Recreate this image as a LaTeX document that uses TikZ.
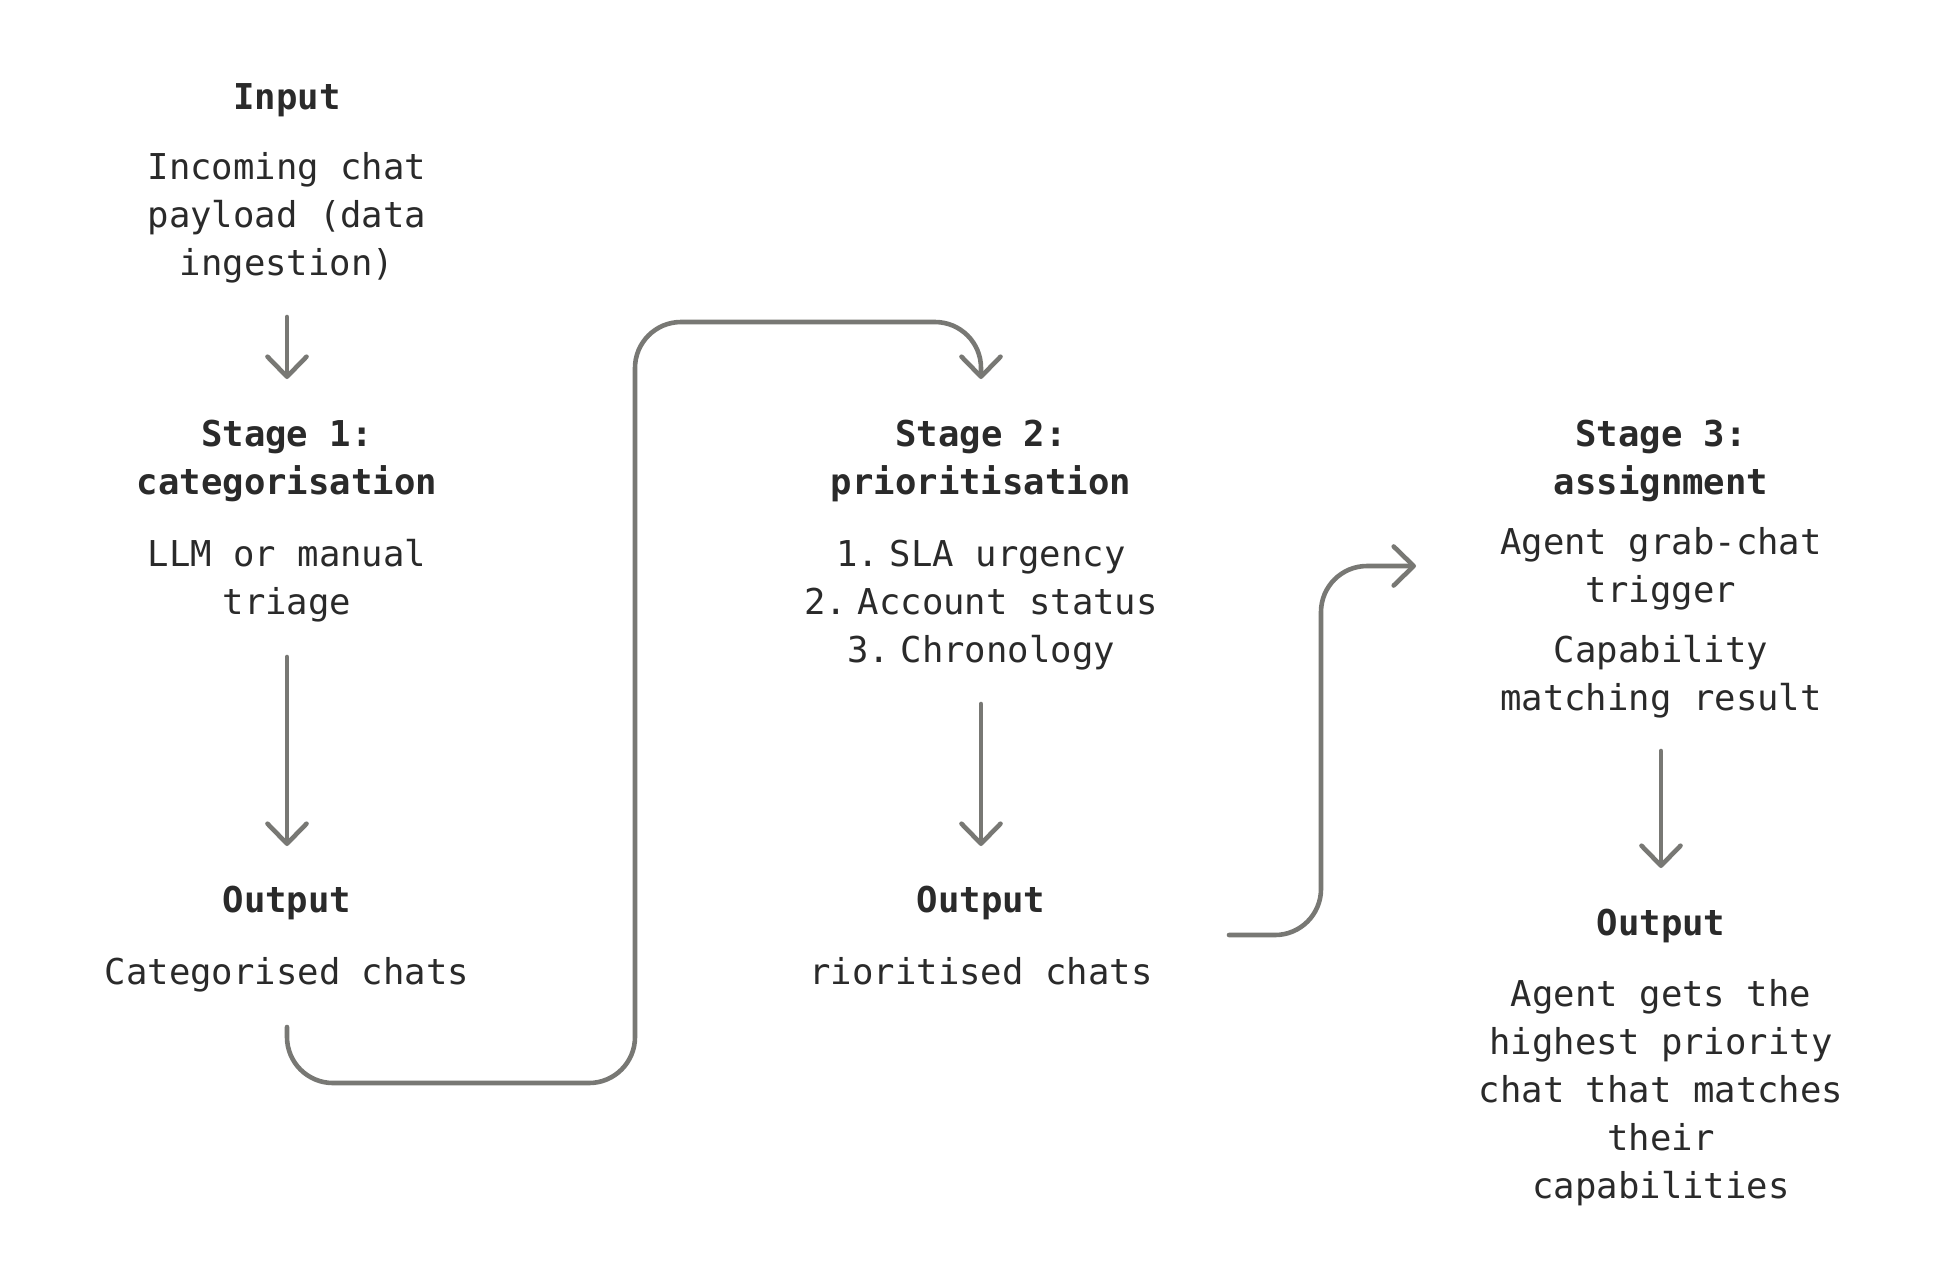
\documentclass[tikz,border=0pt]{standalone}
\usepackage{fontspec}
\setmainfont{DejaVu Sans Mono}
\usetikzlibrary{arrows.meta,calc}
\definecolor{txt}{RGB}{42,42,42}
\definecolor{ln}{RGB}{120,120,116}
\newcommand{\lsp}{\hspace{0.3em}}
\tikzset{
  lbl/.style={inner sep=0pt, align=center, text=txt, font=\fontsize{17.8pt}{24pt}\selectfont},
  ttl/.style={lbl, font=\fontsize{17.8pt}{24pt}\selectfont\bfseries},
  arr/.style={draw=ln, line width=2.3pt, line cap=round, line join=round,
    -{Straight Barb[length=10pt,width=19.5pt,round]}},
  conn/.style={arr, rounded corners=23pt}
}
\begin{document}
\begin{tikzpicture}[x=0.5pt,y=-0.5pt]
\fill[white] (0,0) rectangle (1950,1282);
\useasboundingbox (0,0) rectangle (1950,1282);
% column 1
\node[ttl] (inp) at (287,100) {Input};
\node[lbl] (inbody) at (287,218) {Incoming chat\\payload (data\\ingestion)};
\node[ttl] (s1title) at (287,461) {Stage 1:\\categorisation};
\node[lbl] (s1body) at (287,581) {LLM or manual\\triage};
\node[ttl] (o1title) at (287,902.5) {Output};
\node[lbl] (o1body) at (287,974.5) {Categorised chats};
% column 2
\node[ttl] (s2title) at (981,461) {Stage 2:\\prioritisation};
\node[lbl] (s2body) at (981,605.5) {1.\lsp SLA urgency\\2.\lsp Account status\\3.\lsp Chronology};
\node[ttl] (o2title) at (981,902.5) {Output};
\node[lbl] (o2body) at (981,971) {rioritised chats};
% column 3
\node[ttl] (s3title) at (1661,461) {Stage 3:\\assignment};
\node[lbl] (s3body1) at (1661,569) {Agent grab-chat\\trigger};
\node[lbl] (s3body2) at (1661,677) {Capability\\matching result};
\node[ttl] (o3title) at (1661,925.5) {Output};
\node[lbl] (o3body) at (1661,1093) {Agent gets the\\highest priority\\chat that matches\\their\\capabilities};
% straight arrows
\draw[arr] ($(inbody.center)+(0,99)$) -- ($(s1title.center)+(0,-82)$);
\draw[arr] ($(s1body.center)+(0,76)$) -- ($(o1title.center)+(0,-56.5)$);
\draw[arr] ($(s2body.center)+(0,98.5)$) -- ($(o2title.center)+(0,-56.5)$);
\draw[arr] ($(s3body2.center)+(0,74)$) -- ($(o3title.center)+(0,-57.5)$);
% connector 1
\coordinate (c1) at (635,1083);
\coordinate (c2) at (635,322);
\draw[conn] ($(o1body.center)+(0,52.5)$) |- (c1) -- (c2) -| ($(s2title.center)+(0,-82)$);
% connector 2
\coordinate (c3) at (1229,935);
\coordinate (c4) at (1321,566);
\draw[conn] (c3) -| (c4) -- ($(s3body1.center)+(-245,-3)$);
\end{tikzpicture}
\end{document}
